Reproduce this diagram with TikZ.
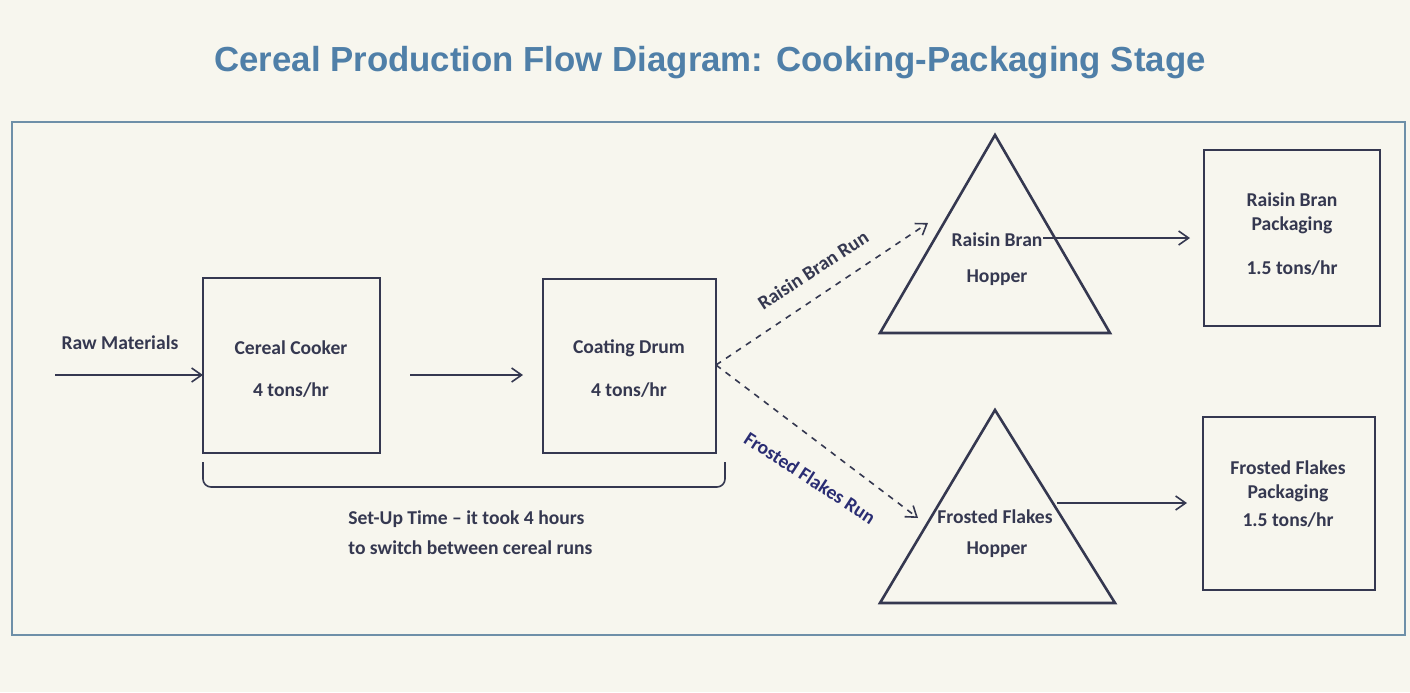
\documentclass[tikz,border=0pt]{standalone}
\usepackage{fontspec}
\setmainfont{Carlito}
\newfontfamily\titlefont{Liberation Sans}
\usetikzlibrary{arrows.meta}
\definecolor{ink}{HTML}{353850}
\definecolor{titleblue}{HTML}{4F7FA8}
\definecolor{framec}{HTML}{6E8FA8}
\definecolor{bg}{HTML}{F7F6EE}
\begin{document}
\begin{tikzpicture}[x=0.5pt,y=-0.5pt,
  box/.style={draw=ink,line width=1.3pt},
  lbl/.style={font=\fontsize{9.8}{11}\selectfont\bfseries,text=ink,inner sep=0pt},
  arr/.style={draw=ink,line width=0.8pt,-{Straight Barb[length=5pt,width=7pt]}},
  darr/.style={arr,dashed}]
\fill[bg] (0,0) rectangle (1410,692);
\useasboundingbox (0,0) rectangle (1410,692);
\node[font=\titlefont\fontsize{17.4}{20}\selectfont\bfseries,text=titleblue] (title) at (710,63) {Cereal Production Flow Diagram: Cooking-Packaging Stage};
\draw[framec,line width=1.2pt] (12,122) rectangle (1405,635);
% boxes
\draw[box] (203,278) rectangle (380,453); \coordinate (cookW) at (203,375); \coordinate (cookE) at (380,375);
\draw[box] (543,279) rectangle (716,453); \coordinate (drumW) at (543,375); \coordinate (drumE) at (716,365);
\draw[box] (1204,150) rectangle (1380,326); \coordinate (rbpW) at (1204,238);
\draw[box] (1203,417) rectangle (1375,590); \coordinate (ffpW) at (1203,503);
\draw[box,line join=miter] (995,135) -- (1110,333) -- (880,333) -- cycle;
\draw[box,line join=miter] (995,410) -- (1115,603) -- (880,603) -- cycle;
\coordinate (rbhIn) at (928,223); \coordinate (rbhOut) at (1043,238);
\coordinate (ffhIn) at (918,518); \coordinate (ffhOut) at (1057,503);
\coordinate (rawS) at (55,375);
% texts
\node[lbl] (raw) at (120,343) {Raw Materials};
\node[lbl] (cc1) at (291,348) {Cereal Cooker};
\node[lbl] (cc2) at (291,390) {4 tons/hr};
\node[lbl] (cd1) at (629,348) {Coating Drum};
\node[lbl] (cd2) at (629,390) {4 tons/hr};
\node[lbl] (rh1) at (997,240) {Raisin Bran};
\node[lbl] (rh2) at (997,278) {Hopper};
\node[lbl] (fh1) at (995,517) {Frosted Flakes};
\node[lbl] (fh2) at (997,550) {Hopper};
\node[lbl] (rp1) at (1292,200) {Raisin Bran};
\node[lbl] (rp2) at (1292,225) {Packaging};
\node[lbl] (rp3) at (1292,268) {1.5 tons/hr};
\node[lbl] (fp1) at (1288,468) {Frosted Flakes};
\node[lbl] (fp2) at (1288,493) {Packaging};
\node[lbl] (fp3) at (1288,520) {1.5 tons/hr};
\node[lbl,rotate=33] (rbrun) at (813,270) {Raisin Bran Run};
\node[lbl,rotate=-33,text=ink!80!blue] (ffrun) at (810,478) {Frosted Flakes Run};
\node[lbl,anchor=west,font=\fontsize{9.8}{15}\selectfont\bfseries,align=left] (setup) at (348,533) {Set-Up Time -- it took 4 hours\\to switch between cereal runs};
% connectors
\draw[arr] (rawS) -- (cookW);
\draw[arr] ([xshift=15]cookE) -- ([xshift=-10]drumW);
\draw[darr] (drumE) -- (rbhIn);
\draw[darr] (drumE) -- (ffhIn);
\draw[arr] (rbhOut) -- ([xshift=-7]rbpW);
\draw[arr] (ffhOut) -- ([xshift=-8]ffpW);
\draw[ink,line width=0.8pt,rounded corners=4pt] (203,462) -- (203,487) -- (725,487) -- (725,462);
\end{tikzpicture}
\end{document}
